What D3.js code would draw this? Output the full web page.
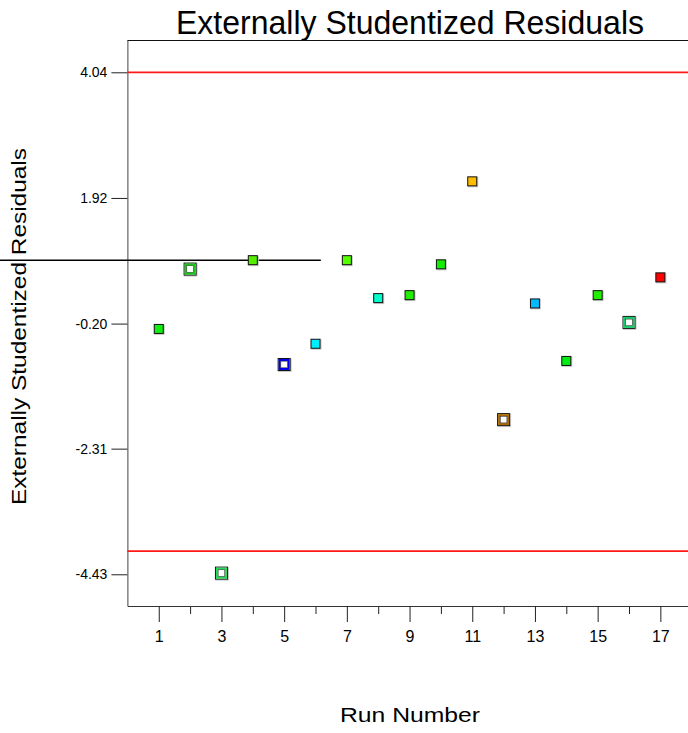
<!DOCTYPE html>
<html>
<head>
<meta charset="utf-8">
<script src="https://cdn.jsdelivr.net/npm/d3@7"></script>
<style>
  html, body { margin: 0; padding: 0; background: #fff; }
  svg { display: block; font-family: "Liberation Sans", Arial, sans-serif; }
</style>
</head>
<body>
<svg id="chart" width="688" height="733"></svg>
<script>
// ---- data ----
const runs = [1, 2, 3, 4, 5, 6, 7, 8, 9, 10, 11, 12, 13, 14, 15, 16, 17];
const residuals = [-0.29, 0.72, -4.41, 0.87, -0.89, -0.54, 0.87, 0.23, 0.28, 0.80, 2.20, -1.82, 0.14, -0.83, 0.28, -0.18, 0.58];
const openMarker = [false, true, true, false, true, false, false, false, false, false, false, true, false, false, false, true, false];
const pointColors = ["#11ee11", "#11cc11", "#22dd55", "#55ee00", "#0000ee", "#00eeff", "#55ff00", "#00ffcc", "#22ee00",
                     "#11ee00", "#ffbb00", "#aa6600", "#00bbff", "#00ee11", "#22ee00", "#11cc66", "#ff0000"];
const yTicks = [4.04, 1.92, -0.20, -2.31, -4.43];
const xMajorTicks = [1, 3, 5, 7, 9, 11, 13, 15, 17];
const xMinorTicks = [2, 4, 6, 8, 10, 12, 14, 16];
const limits = [4.04, -4.04];
const refLineValue = 0.87;
const refLineEndRun = 6.17;
const titleText = "Externally Studentized Residuals";
const xTitle = "Run Number";
const yTitle = "Externally Studentized Residuals";

// ---- scales ----
const svg = d3.select("#chart");
const x = d3.scaleLinear().domain([0, 18]).range([127.4, 691.7]);
const y = d3.scaleLinear().domain([-4.965, 4.585]).range([606, 40]);

svg.append("rect").attr("width", 688).attr("height", 733).attr("fill", "#fff");

// title
svg.append("text")
  .attr("x", 410).attr("y", 33.5)
  .attr("text-anchor", "middle")
  .attr("font-size", 33)
  .attr("textLength", 468).attr("lengthAdjust", "spacingAndGlyphs")
  .attr("fill", "#000")
  .text(titleText);

// frame top
svg.append("line")
  .attr("x1", x(0)).attr("x2", x(18)).attr("y1", y.range()[1] + 0.5).attr("y2", y.range()[1] + 0.5)
  .attr("stroke", "#111").attr("stroke-width", 1);

// x axis minor
const gxMinor = svg.append("g").attr("transform", `translate(0,${y.range()[0]})`)
  .call(d3.axisBottom(x).tickValues(xMinorTicks).tickSize(8).tickSizeOuter(0).tickFormat(""));
gxMinor.select(".domain").remove();
// x axis major
const gx = svg.append("g").attr("transform", `translate(0,${y.range()[0]})`)
  .call(d3.axisBottom(x).tickValues(xMajorTicks).tickSize(16).tickSizeOuter(0).tickPadding(9).tickFormat(d => String(d)));
gx.select(".domain").attr("stroke", "#333");
gx.selectAll("text").attr("font-size", 16).attr("font-family", "Liberation Sans, Arial, sans-serif").attr("fill", "#000");
svg.selectAll(".tick line").attr("stroke", "#222");

// y axis
const gy = svg.append("g").attr("transform", `translate(${x(0)},0)`)
  .call(d3.axisLeft(y).tickValues(yTicks).tickSize(16).tickSizeOuter(0).tickPadding(4)
    .tickFormat(d => d.toFixed(2)));
gy.select(".domain").attr("stroke", "#444");
gy.selectAll(".tick line").attr("stroke", "#222");
gy.selectAll("text").attr("font-size", 14).attr("font-family", "Liberation Sans, Arial, sans-serif").attr("fill", "#000");

// axis titles
svg.append("text")
  .attr("x", 410).attr("y", 722)
  .attr("text-anchor", "middle")
  .attr("font-size", 21)
  .attr("textLength", 140).attr("lengthAdjust", "spacingAndGlyphs")
  .text(xTitle);

svg.append("text")
  .attr("transform", `translate(26,${(148 + 505) / 2}) rotate(-90)`)
  .attr("text-anchor", "middle")
  .attr("font-size", 20)
  .attr("textLength", 357).attr("lengthAdjust", "spacingAndGlyphs")
  .text(yTitle);

// limit lines
svg.selectAll(".limit").data(limits).enter().append("line")
  .attr("class", "limit")
  .attr("x1", x(0)).attr("x2", x(18))
  .attr("y1", d => y(d)).attr("y2", d => y(d))
  .attr("stroke", "#ff1a1a").attr("stroke-width", 1.7);

// stray reference line
svg.append("line")
  .attr("x1", 0).attr("x2", x(refLineEndRun))
  .attr("y1", y(refLineValue)).attr("y2", y(refLineValue))
  .attr("stroke", "#000").attr("stroke-width", 1.4);

// points
const pts = runs.map((r, i) => ({ run: r, val: residuals[i], open: openMarker[i], color: pointColors[i] }));
const g = svg.selectAll(".pt").data(pts).enter().append("g")
  .attr("class", "pt")
  .attr("transform", d => `translate(${x(d.run)},${y(d.val)})`);

// shadow
g.append("rect")
  .attr("x", d => d.open ? -6 : -4.5).attr("y", d => d.open ? -6 : -4.5)
  .attr("width", d => d.open ? 13.5 : 10.5).attr("height", d => d.open ? 13.5 : 10.5)
  .attr("fill", "#c8c8c8");

// filled markers
g.filter(d => !d.open).append("rect")
  .attr("x", -4.5).attr("y", -4.5).attr("width", 9).attr("height", 9)
  .attr("fill", d => d.color).attr("stroke", "#111").attr("stroke-width", 1);

// open markers
const go = g.filter(d => d.open);
go.append("rect")
  .attr("x", -6).attr("y", -6).attr("width", 12).attr("height", 12)
  .attr("fill", "#fff").attr("stroke", "#111").attr("stroke-width", 1);
go.append("rect")
  .attr("x", -4.5).attr("y", -4.5).attr("width", 9).attr("height", 9)
  .attr("fill", "none").attr("stroke", d => d.color).attr("stroke-width", 2);
go.append("rect")
  .attr("x", -3.3).attr("y", -3.3).attr("width", 6.6).attr("height", 6.6)
  .attr("fill", "none").attr("stroke", "#111").attr("stroke-width", 0.5);
</script>
</body>
</html>
